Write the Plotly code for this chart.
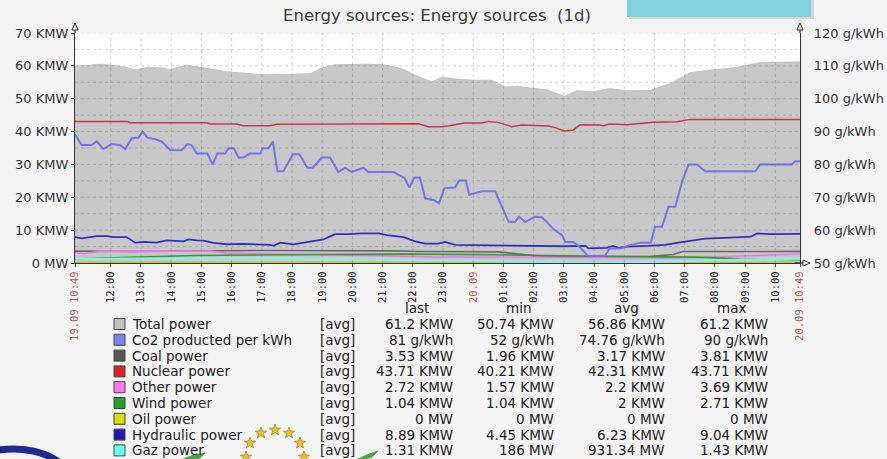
import math
import plotly.graph_objects as go

# ---------------- data (hours after 19.09 10:49) ----------------
total_h = [0, 0.88, 1.49, 2.04, 2.37, 2.81, 3.15, 3.70, 4.03, 4.47, 5.02, 5.69, 6.24, 7.01, 7.8, 8.2,
           8.6, 9.6, 10.16, 10.8, 11.26, 11.81, 12.14, 12.58, 13.25, 13.8, 14.24, 14.67, 15.12, 15.66,
           16.2, 16.61, 17.16, 17.7, 18.27, 19.04, 19.7, 20.36, 21.03, 21.9, 22.68, 24.0]
total_v = [59.9, 60.5, 59.9, 58.7, 59.5, 59.4, 58.9, 60.2, 59.7, 59.0, 58.2, 57.7, 57.3, 57.4, 57.6, 59.5,
           60.3, 60.5, 60.4, 59.2, 57.2, 55.1, 56.5, 56.0, 55.6, 55.6, 53.6, 53.7, 53.1, 52.6,
           50.74, 52.4, 52.1, 53.1, 52.4, 52.5, 54.6, 57.9, 58.7, 59.5, 61.0, 61.2]

co2_h = [0, 0.22, 0.55, 0.72, 0.94, 1.21, 1.49, 1.66, 1.88, 2.10, 2.24, 2.40, 2.65, 2.87, 3.15, 3.53,
         3.72, 3.86, 4.03, 4.38, 4.56, 4.71, 4.97, 5.08, 5.26, 5.41, 5.57, 5.79, 6.13, 6.21, 6.40, 6.55,
         6.70, 6.90, 7.21, 7.43, 7.69, 7.87, 8.17, 8.44, 8.72, 8.94, 9.16, 9.55, 9.71, 10.54, 10.9, 11.07,
         11.24, 11.42, 11.59, 11.87, 12.05, 12.23, 12.58, 12.72, 12.94, 13.05, 13.47, 13.91, 14.35, 14.57,
         14.7, 14.9, 15.23, 15.45, 15.62, 15.84, 16.12, 16.23, 16.5, 16.67, 17.0, 17.55, 17.7, 18.1,
         18.27, 18.71, 19.06, 19.2, 19.43, 19.65, 19.87, 20.1, 20.31, 20.59, 20.86, 22.52, 22.68, 23.73,
         23.84, 24.0]
co2_v = [89.2, 85.9, 85.9, 87.0, 84.7, 86.2, 85.9, 84.7, 88.0, 88.1, 90.0, 88.1, 87.7, 87.0, 84.4, 84.3,
         86.2, 85.9, 83.3, 83.3, 80.0, 83.3, 83.3, 84.9, 84.9, 82.1, 82.1, 83.3, 83.3, 84.9, 84.9, 87.0,
         77.9, 77.9, 83.1, 83.1, 79.0, 79.0, 82.1, 82.1, 77.7, 79.0, 77.7, 79.0, 77.7, 77.7, 75.9, 73.0,
         76.0, 76.0, 69.7, 69.2, 68.2, 72.8, 73.0, 75.1, 75.1, 70.8, 71.8, 71.8, 62.6, 62.5,
         64.1, 62.5, 64.1, 63.9, 62.5, 60.3, 58.5, 56.4, 56.4, 55.2, 52.0, 52.3, 54.4, 54.5,
         55.2, 56.2, 56.2, 61.0, 61.0, 67.1, 67.1, 74.9, 80.0, 80.0, 77.9, 77.9, 80.0, 80.0,
         81.0, 81.0]

coal_h = [0, 2.0, 4.0, 6.5, 10.5, 11.5, 14.0, 15.2, 16.5, 19.0, 19.8, 20.1, 24.0]
coal_v = [3.6, 3.5, 3.7, 3.81, 3.7, 3.5, 3.4, 2.2, 1.96, 2.0, 2.6, 3.5, 3.53]

nuc_h = [0, 1.71, 1.82, 4.36, 4.47, 5.35, 5.57, 6.46, 6.68, 8.1, 11.37, 11.7, 12.14, 12.4, 12.9, 13.47,
         13.68, 14.0, 14.46, 14.79, 15.66, 15.9, 16.2, 16.5, 16.72, 17.38, 17.5, 17.7, 18.27, 19.15,
         19.93, 20.36, 24.0]
nuc_v = [43.1, 43.1, 42.7, 42.7, 42.3, 42.3, 41.8, 41.8, 42.2, 42.2, 42.4, 41.5, 41.5, 41.8, 42.6, 42.6,
         43.1, 42.8, 41.5, 42.0, 41.7, 41.2, 40.21, 40.5, 42.1, 42.0, 41.8, 42.3, 42.1, 42.8,
         43.0, 43.71, 43.71]

other_h = [0, 0.3, 0.9, 4.5, 5.0, 8.0, 10.0, 12.0, 16.0, 20.0, 21.5, 24.0]
other_v = [3.2, 2.8, 3.69, 3.6, 3.0, 2.6, 2.2, 1.8, 1.6, 1.57, 2.0, 2.72]

wind_h = [0, 0.9, 2.2, 4.0, 8.0, 11.0, 14.0, 16.0, 18.0, 20.5, 22.0, 24.0]
wind_v = [1.3, 1.5, 2.0, 2.3, 2.6, 2.71, 2.5, 2.2, 2.0, 1.8, 1.3, 1.04]

oil_h = [0, 24.0]
oil_v = [0, 0]

hyd_h = [0, 0.22, 0.72, 1.05, 1.27, 1.71, 1.99, 2.32, 2.7, 3.04, 3.59, 3.75, 4.03, 4.25, 4.58, 5.02,
         5.57, 6.46, 6.57, 6.79, 7.23, 7.8, 8.06, 8.23, 8.61, 9.05, 9.49, 10.05, 10.32, 10.87, 11.26,
         11.59, 12.03, 12.25, 12.58, 14.57, 16.2, 16.9, 17.0, 17.6, 17.8, 18.0, 18.27, 19.0, 19.54,
         19.98, 20.86, 21.7, 22.37, 22.58, 23.0, 24.0]
hyd_v = [7.9, 7.5, 8.2, 8.2, 7.9, 7.9, 6.2, 6.4, 6.2, 6.9, 6.6, 7.2, 6.9, 6.8, 6.1, 5.7,
         5.8, 5.5, 5.2, 6.2, 5.7, 6.6, 6.9, 7.2, 8.8, 8.8, 9.04, 9.0, 8.5, 7.9, 6.6,
         5.9, 5.9, 6.4, 5.5, 5.2, 5.1, 5.2, 4.45, 4.6, 5.2, 4.6, 5.0, 5.2, 5.5,
         6.2, 7.4, 7.7, 8.0, 9.0, 8.8, 8.89]

gaz_h = [0, 3.0, 6.0, 10.0, 14.0, 17.0, 19.0, 21.0, 23.0, 24.0]
gaz_v = [1.3, 1.3, 1.43, 1.0, 0.6, 0.19, 0.3, 0.8, 1.2, 1.31]

# axis ticks (first full hour 12:00 is 1h11m after the start)
x_tick_vals = [0] + [71 / 60 + k for k in range(23)] + [24]
x_tick_text = ['<span style="color:#b05a5a">19.09 10:49</span>',
               '12:00', '13:00', '14:00', '15:00', '16:00', '17:00', '18:00', '19:00', '20:00',
               '21:00', '22:00', '23:00', '<span style="color:#b05a5a">20.09</span>',
               '01:00', '02:00', '03:00', '04:00', '05:00', '06:00', '07:00', '08:00', '09:00', '10:00',
               '<span style="color:#b05a5a">20.09 10:49</span>']
y_tick_vals = [0, 10, 20, 30, 40, 50, 60, 70]
y_tick_text = ['0 MW', '10 KMW', '20 KMW', '30 KMW', '40 KMW', '50 KMW', '60 KMW', '70 KMW']
y2_tick_vals = [50, 60, 70, 80, 90, 100, 110, 120]
y2_tick_text = ['50 g/kWh', '60 g/kWh', '70 g/kWh', '80 g/kWh', '90 g/kWh', '100 g/kWh', '110 g/kWh', '120 g/kWh']

# legend table
leg_names = ['Total power', 'Co2 producted per kWh', 'Coal power', 'Nuclear power', 'Other power',
             'Wind power', 'Oil power', 'Hydraulic power', 'Gaz power']
leg_colors = ['#c0c0c0', '#7f7fff', '#555555', '#dd2020', '#ff77ff', '#22a022', '#dddd00', '#1a1ab0', '#66ffff']
leg_last = ['61.2 KMW', '81 g/kWh', '3.53 KMW', '43.71 KMW', '2.72 KMW', '1.04 KMW', '0 MW', '8.89 KMW', '1.31 KMW']
leg_min = ['50.74 KMW', '52 g/kWh', '1.96 KMW', '40.21 KMW', '1.57 KMW', '1.04 KMW', '0 MW', '4.45 KMW', '186 MW']
leg_avg = ['56.86 KMW', '74.76 g/kWh', '3.17 KMW', '42.31 KMW', '2.2 KMW', '2 KMW', '0 MW', '6.23 KMW', '931.34 MW']
leg_max = ['61.2 KMW', '90 g/kWh', '3.81 KMW', '43.71 KMW', '3.69 KMW', '2.71 KMW', '0 MW', '9.04 KMW', '1.43 KMW']

# ---------------- geometry helpers ----------------
W, H = 887, 459
L, R, T, B = 75, 87, 33, 196
PW, PH = W - L - R, H - T - B


def px(x):
    return (x - L) / PW


def py(y):
    return (H - B - y) / PH


def star_path(cx, cy, r):
    pts = []
    for i in range(10):
        rr = r if i % 2 == 0 else r * 0.42
        a = -math.pi / 2 + i * math.pi / 5
        pts.append((px(cx + rr * math.cos(a)), py(cy + rr * math.sin(a))))
    return 'M ' + ' L '.join(f'{a} {b}' for a, b in pts) + ' Z'


FONT = 'DejaVu Sans, Verdana, sans-serif'

fig = go.Figure()
fig.add_trace(go.Scatter(x=total_h, y=total_v, mode='lines', fill='tozeroy', fillcolor='#c8c8c8',
                         line=dict(color='#c2c2c2', width=1), name=leg_names[0]))
fig.add_trace(go.Scatter(x=co2_h, y=co2_v, mode='lines', yaxis='y2', line=dict(color='#7474f0', width=2),
                         name=leg_names[1]))
fig.add_trace(go.Scatter(x=coal_h, y=coal_v, mode='lines', line=dict(color='#6a6a6a', width=1.6), name=leg_names[2]))
fig.add_trace(go.Scatter(x=nuc_h, y=nuc_v, mode='lines', line=dict(color='#cc3b3b', width=1.5), name=leg_names[3]))
fig.add_trace(go.Scatter(x=other_h, y=other_v, mode='lines', line=dict(color='#ee77ee', width=1.6), name=leg_names[4]))
fig.add_trace(go.Scatter(x=wind_h, y=wind_v, mode='lines', line=dict(color='#28a028', width=1.6), name=leg_names[5]))
fig.add_trace(go.Scatter(x=oil_h, y=oil_v, mode='lines', line=dict(color='#c8c800', width=2.5), name=leg_names[6]))
fig.add_trace(go.Scatter(x=hyd_h, y=hyd_v, mode='lines', line=dict(color='#3030c0', width=1.8), name=leg_names[7]))
fig.add_trace(go.Scatter(x=gaz_h, y=gaz_v, mode='lines', line=dict(color='#88eeee', width=2.2), name=leg_names[8]))

shapes = []
# dotted grid on top of the area
for v in range(5, 75, 5):
    shapes.append(dict(type='line', xref='x', yref='y', x0=0, x1=24, y0=v, y1=v,
                       line=dict(color='rgba(90,90,90,0.28)', width=1, dash='dot'), layer='above'))
for v in x_tick_vals[1:-1]:
    shapes.append(dict(type='line', xref='x', yref='y', x0=v, x1=v, y0=0, y1=70,
                       line=dict(color='rgba(90,90,90,0.28)', width=1, dash='dot'), layer='above'))

# axis arrows
ac = '#333333'
shapes.append(dict(type='line', xref='paper', yref='paper', x0=px(75), x1=px(75), y0=py(33), y1=py(26),
                   line=dict(color=ac, width=1.3)))
shapes.append(dict(type='path', xref='paper', yref='paper',
                   path=f'M {px(72)} {py(30)} L {px(78)} {py(30)} L {px(75)} {py(23)} Z',
                   line=dict(color=ac, width=1), fillcolor='white'))
shapes.append(dict(type='line', xref='paper', yref='paper', x0=px(800), x1=px(800), y0=py(33), y1=py(26),
                   line=dict(color=ac, width=1.3)))
shapes.append(dict(type='path', xref='paper', yref='paper',
                   path=f'M {px(797)} {py(30)} L {px(803)} {py(30)} L {px(800)} {py(23)} Z',
                   line=dict(color=ac, width=1), fillcolor='white'))
shapes.append(dict(type='line', xref='paper', yref='paper', x0=px(795), x1=px(804), y0=py(263), y1=py(263),
                   line=dict(color=ac, width=1.3)))
shapes.append(dict(type='path', xref='paper', yref='paper',
                   path=f'M {px(803)} {py(260)} L {px(803)} {py(266)} L {px(810)} {py(263)} Z',
                   line=dict(color=ac, width=1), fillcolor='white'))

# cyan box at top (slide decoration)
shapes.append(dict(type='rect', xref='paper', yref='paper', x0=px(629), x1=px(814), y0=py(19), y1=py(-5),
                   line=dict(width=0), fillcolor='rgba(0,0,0,0.12)', layer='above'))
shapes.append(dict(type='rect', xref='paper', yref='paper', x0=px(627), x1=px(811), y0=py(17), y1=py(-5),
                   line=dict(width=0), fillcolor='#80d0de', layer='above'))

# legend colour boxes
row_y = [324 + 15.8 * i for i in range(len(leg_names))]
for c, ry in zip(leg_colors, row_y):
    shapes.append(dict(type='rect', xref='paper', yref='paper', x0=px(114), x1=px(125),
                       y0=py(ry + 5.5), y1=py(ry - 5.5), line=dict(color='#444444', width=1), fillcolor=c))

# logo fragments bottom-left
shapes.append(dict(type='circle', xref='paper', yref='paper', x0=px(-45), x1=px(72), y0=py(520), y1=py(449),
                   line=dict(color='#1c2a92', width=7)))
shapes.append(dict(type='path', xref='paper', yref='paper',
                   path=f'M {px(176)} {py(462)} Q {px(190)} {py(455)} {px(205)} {py(453)} L {px(200)} {py(458)} Z',
                   line=dict(color='#44a83a', width=1), fillcolor='#44a83a'))
shapes.append(dict(type='path', xref='paper', yref='paper',
                   path=f'M {px(352)} {py(462)} Q {px(365)} {py(455)} {px(378)} {py(451)} L {px(372)} {py(457)} Z',
                   line=dict(color='#44a83a', width=1), fillcolor='#44a83a'))
for sx, sy in [(250, 443), (261, 433), (275, 430), (289, 433), (300, 443), (246, 457), (304, 457)]:
    shapes.append(dict(type='path', xref='paper', yref='paper', path=star_path(sx, sy, 6),
                       line=dict(color='#8a6a10', width=0.6), fillcolor='#f0bf22'))

ann = []
tf = dict(family=FONT, size=13.5, color='#222222')
for txt, hx in (('last', 417), ('min', 518), ('avg', 626), ('max', 731)):
    ann.append(dict(xref='paper', yref='paper', x=px(hx), y=py(307.5), text=txt, showarrow=False,
                    xanchor='center', yanchor='middle', font=tf))
for i, ry in enumerate(row_y):
    ann.append(dict(xref='paper', yref='paper', x=px(130), y=py(ry), text=leg_names[i], showarrow=False,
                    xanchor='left', yanchor='middle', font=tf))
    ann.append(dict(xref='paper', yref='paper', x=px(318), y=py(ry), text='[avg]', showarrow=False,
                    xanchor='left', yanchor='middle', font=tf))
    for col, xr in ((leg_last, 455), (leg_min, 556), (leg_avg, 667), (leg_max, 770)):
        ann.append(dict(xref='paper', yref='paper', x=px(xr), y=py(ry), text=col[i], showarrow=False,
                        xanchor='right', yanchor='middle', font=tf))

fig.update_layout(
    width=W, height=H, autosize=False,
    margin=dict(l=L, r=R, t=T, b=B, pad=0),
    paper_bgcolor='#f4f4f4', plot_bgcolor='white',
    showlegend=False,
    title=dict(text='Energy sources: Energy sources  (1d)', x=437 / W, y=1 - 15 / H,
               xanchor='center', yanchor='middle', font=dict(family=FONT, size=16.5, color='#3a3a3a')),
    xaxis=dict(range=[0, 24], tickmode='array', tickvals=x_tick_vals, ticktext=x_tick_text, tickangle=-90,
               showgrid=False, zeroline=False, showline=True, linecolor='#333333', linewidth=1.3,
               ticks='outside', ticklen=3, tickcolor='#555555', automargin=False,
               tickfont=dict(family='DejaVu Sans Mono, monospace', size=10.5, color='#222222')),
    yaxis=dict(range=[0, 70], tickmode='array', tickvals=y_tick_vals, ticktext=y_tick_text,
               showgrid=False, zeroline=False, showline=True, linecolor='#333333', linewidth=1.3,
               ticks='outside', ticklen=3, tickcolor='#333333', automargin=False,
               tickfont=dict(family=FONT, size=13, color='#333333')),
    yaxis2=dict(range=[50, 120], overlaying='y', side='right', tickmode='array', tickvals=y2_tick_vals,
                ticktext=y2_tick_text, showgrid=False, zeroline=False, showline=True, linecolor='#333333',
                linewidth=1.3, ticks='', automargin=False, ticklabelstandoff=10,
                tickfont=dict(family=FONT, size=13, color='#333333')),
    shapes=shapes, annotations=ann,
)

fig.write_html('out.html', config={'displayModeBar': False},
               post_script="document.body.style.margin='0';document.body.style.padding='0';")
